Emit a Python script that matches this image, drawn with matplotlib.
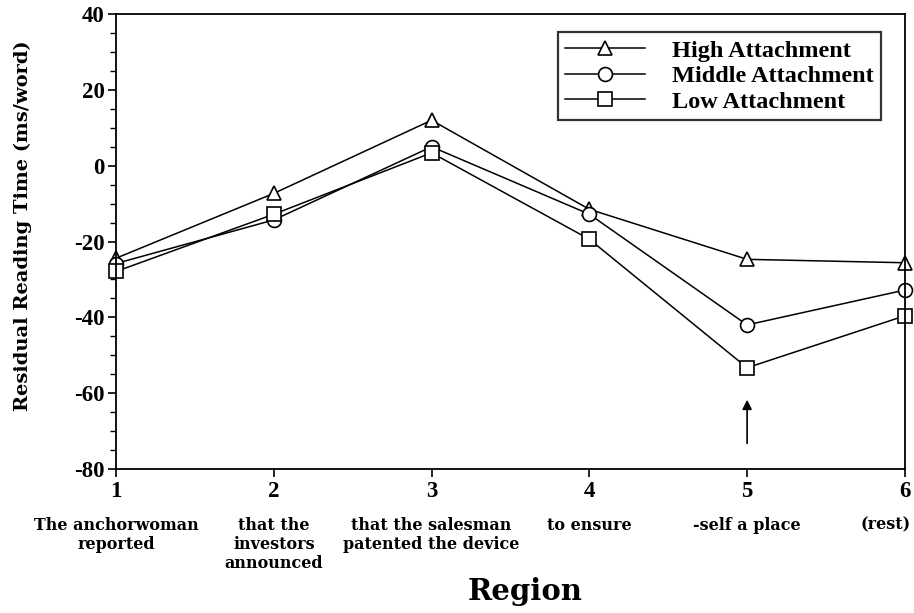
import matplotlib
matplotlib.use("Agg")
from matplotlib import pyplot as plt
from matplotlib.ticker import MultipleLocator
import numpy as np

regions = [1, 2, 3, 4, 5, 6]
region_text = ['The anchorwoman\nreported', 'that the\ninvestors\nannounced',
               'that the salesman\npatented the device', 'to ensure',
               '-self a place', '(rest)']
high = [-24.4, -7.3, 12.0, -11.5, -24.7, -25.6]
middle = [-25.8, -14.3, 5.0, -12.8, -42.0, -32.8]
low = [-27.9, -12.8, 3.4, -19.4, -53.3, -39.6]

plt.rcParams['font.family'] = 'serif'
plt.rcParams['font.serif'] = ['Liberation Serif']
plt.rcParams['font.weight'] = 'bold'
plt.rcParams['axes.unicode_minus'] = False
wide = 'DejaVu Serif'

fig = plt.figure(figsize=(9.14, 6.13), dpi=100)
ax = fig.add_axes([0.127, 0.235, 0.863, 0.742])

style = dict(color='black', lw=1.1, markerfacecolor='white',
             markeredgecolor='black', markeredgewidth=1.2, markersize=10, clip_on=False)
ax.plot(regions, high, marker='^', label='High Attachment', **style)
ax.plot(regions, middle, marker='o', label='Middle Attachment', **style)
ax.plot(regions, low, marker='s', label='Low Attachment', **style)

ax.annotate('', xy=(5, -61), xytext=(5, -74),
            arrowprops=dict(arrowstyle='-|>', color='black', lw=1.2, mutation_scale=14))

ax.set_xlim(1, 6)
ax.set_ylim(-80, 40)
ax.set_xticks(regions)
ax.set_xticklabels([str(r) for r in regions], fontsize=16.5, fontweight='bold')
ax.yaxis.set_major_locator(MultipleLocator(20))
ax.yaxis.set_minor_locator(MultipleLocator(5))
ax.tick_params(axis='y', labelsize=16.5, direction='out', length=6, width=1.2, pad=2)
ax.tick_params(axis='y', which='minor', direction='out', length=4, width=1.0)
ax.tick_params(axis='x', direction='out', length=6, width=1.2, pad=3)
for lab in ax.get_yticklabels():
    lab.set_fontweight('bold')
for s in ax.spines.values():
    s.set_linewidth(1.3)

for r, t in zip(regions, region_text):
    ha = 'center'
    xr = r
    if r == regions[-1]:
        ha = 'right'
        xr = r + 0.035
    ax.text(xr, -0.105, t, transform=ax.get_xaxis_transform(), ha=ha, va='top',
            family=wide, fontsize=11.5, fontweight='bold', linespacing=1.15)

ax.set_ylabel('Residual Reading Time (ms/word)', family=wide, fontsize=14, fontweight='bold')
ax.yaxis.set_label_coords(-0.106, 0.535)
fig.text(0.575, 0.035, 'Region', ha='center', va='center', family=wide,
         fontsize=21, fontweight='bold')

leg = ax.legend(loc='upper right', bbox_to_anchor=(0.97, 0.96), frameon=True, fancybox=False,
                edgecolor='black', prop={'family': 'Liberation Serif', 'weight': 'bold', 'size': 17.5},
                handlelength=3.3, borderpad=0.3, labelspacing=0.15, handletextpad=1.1,
                borderaxespad=0.0)
leg.get_frame().set_linewidth(1.6)

fig.savefig('out.png', dpi=100)
